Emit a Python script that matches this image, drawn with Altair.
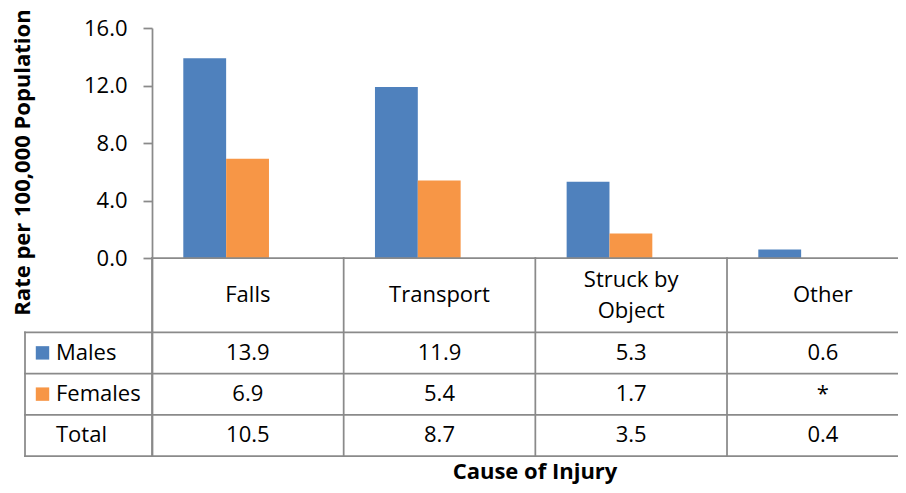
import altair as alt
import pandas as pd

# ---------------- data ----------------
categories = ["Falls", "Transport", "Struck by Object", "Other"]
header_labels = ["Falls", "Transport", "Struck by\nObject", "Other"]
series = ["Males", "Females"]
males = [13.9, 11.9, 5.3, 0.6]
females = [6.9, 5.4, 1.7, None]   # suppressed value shown as "*"
total = [10.5, 8.7, 3.5, 0.4]
row_names = ["Males", "Females", "Total"]
y_ticks = [0, 4, 8, 12, 16]
colors = ["#4F81BD", "#F79646"]
missing_mark = "*"

# ---------------- layout / style ----------------
FONT = "Open Sans"
FS = 22
GRAY = "#8A8A8A"
LW = 1.75
W, H = 746, 428          # view: plot area + data table
PLOT_H = 230             # bar plot part of the view
Y_MAX = 16
COL_PX = 191.67          # width of one category column
ROW_PX = 41.25           # height of one table row
HEADER_ROWS = 1.8        # header row height in row units
LINE_H = 31              # line height of wrapped header labels
LEFT_COL = 127 / COL_PX  # legend/label column width in column units
LABEL_INSET = 31 / COL_PX
SWATCH_INSET = 17.5 / COL_PX
X_MAX = W / COL_PX
TABLE_BOTTOM = HEADER_ROWS + len(row_names)

# bar band scale: bars fill 44.7% of a column, first group starts 31px in
N = len(categories)
P_INNER = 0.553
BAR_START = 31.3
P_OUTER = (W / COL_PX - N + P_INNER) / 2
ALIGN = BAR_START / (W - COL_PX * (N - P_INNER))

y_min = -(H - PLOT_H) / PLOT_H * Y_MAX
table_x_scale = alt.Scale(domain=[0, X_MAX], nice=False, zero=False)
table_y_scale = alt.Scale(domain=[-PLOT_H / ROW_PX, TABLE_BOTTOM], reverse=True, nice=False, zero=False)
color_scale = alt.Scale(domain=series, range=colors)

# ---------------- bars ----------------
bar_rows = []
for s, vals in zip(series, [males, females]):
    for c, v in zip(categories, vals):
        if v is not None:
            bar_rows.append({"category": c, "series": s, "value": v})
bars_df = pd.DataFrame(bar_rows)

bars = alt.Chart(bars_df).mark_bar().encode(
    x=alt.X("category:N", sort=categories, axis=None,
            scale=alt.Scale(domain=categories, paddingInner=P_INNER, paddingOuter=P_OUTER,
                            align=ALIGN, round=False)),
    xOffset=alt.XOffset("series:N", sort=series, scale=alt.Scale(domain=series)),
    y=alt.Y("value:Q",
            scale=alt.Scale(domain=[y_min, Y_MAX], nice=False),
            axis=alt.Axis(values=y_ticks, format=".1f", grid=False,
                          title="Rate per 100,000 Population",
                          titleFont=FONT, titleFontSize=FS, titleFontWeight="bold",
                          titleColor="black", titleAngle=-90, titleAlign="center",
                          titleBaseline="alphabetic", titleX=-123, titleY=134,
                          labelFont=FONT, labelFontSize=FS, labelColor="black",
                          labelPadding=16, tickSize=9, tickColor=GRAY, tickWidth=LW,
                          domainColor=GRAY, domainWidth=LW)),
    y2=alt.datum(0),
    color=alt.Color("series:N", scale=color_scale, legend=None),
)

# ---------------- data table ----------------
lines = [{"x": 0, "x2": X_MAX, "y": 0, "y2": 0}]
for i in range(len(row_names) + 1):
    r = HEADER_ROWS + i
    lines.append({"x": -LEFT_COL, "x2": X_MAX, "y": r, "y2": r})
for i in range(len(categories)):
    lines.append({"x": i, "x2": i, "y": 0, "y2": TABLE_BOTTOM})
lines.append({"x": -LEFT_COL, "x2": -LEFT_COL, "y": HEADER_ROWS, "y2": TABLE_BOTTOM})
lines_df = pd.DataFrame(lines)

rules = alt.Chart(lines_df).mark_rule(color=GRAY, strokeWidth=LW, strokeCap="square").encode(
    x=alt.X("x:Q", scale=table_x_scale, axis=None),
    x2="x2:Q",
    y=alt.Y("y:Q", scale=table_y_scale, axis=None),
    y2="y2:Q",
)

header_df = pd.DataFrame({
    "x": [i + 0.5 for i in range(len(categories))],
    "y": [HEADER_ROWS / 2 - (lbl.count("\n") * LINE_H / 2) / ROW_PX for lbl in header_labels],
    "text": header_labels,
})
header = alt.Chart(header_df).mark_text(
    font=FONT, fontSize=FS, color="black", align="center", baseline="middle",
    lineBreak="\n", lineHeight=LINE_H,
).encode(
    x=alt.X("x:Q", scale=table_x_scale, axis=None),
    y=alt.Y("y:Q", scale=table_y_scale, axis=None),
    text="text:N",
)

cells = []
for r, vals in enumerate([males, females, total]):
    for i, v in enumerate(vals):
        cells.append({
            "x": i + 0.5,
            "y": HEADER_ROWS + r + 0.5,
            "text": missing_mark if v is None else f"{v:.1f}",
        })
cells_df = pd.DataFrame(cells)
cell_text = alt.Chart(cells_df).mark_text(
    font=FONT, fontSize=FS, color="black", align="center", baseline="middle",
).encode(
    x=alt.X("x:Q", scale=table_x_scale, axis=None),
    y=alt.Y("y:Q", scale=table_y_scale, axis=None),
    text="text:N",
)

labels_df = pd.DataFrame({
    "x": [-LEFT_COL + LABEL_INSET] * len(row_names),
    "y": [HEADER_ROWS + r + 0.5 for r in range(len(row_names))],
    "text": row_names,
})
row_labels = alt.Chart(labels_df).mark_text(
    font=FONT, fontSize=FS, color="black", align="left", baseline="middle",
).encode(
    x=alt.X("x:Q", scale=table_x_scale, axis=None),
    y=alt.Y("y:Q", scale=table_y_scale, axis=None),
    text="text:N",
)

swatch_df = pd.DataFrame({
    "x": [-LEFT_COL + SWATCH_INSET] * len(series),
    "y": [HEADER_ROWS + r + 0.5 for r in range(len(series))],
    "series": series,
})
swatches = alt.Chart(swatch_df).mark_square(size=180, opacity=1, filled=True).encode(
    x=alt.X("x:Q", scale=table_x_scale, axis=None),
    y=alt.Y("y:Q", scale=table_y_scale, axis=None),
    color=alt.Color("series:N", scale=color_scale, legend=None),
)

table = alt.layer(rules, header, cell_text, row_labels, swatches)

chart = alt.layer(bars, table).resolve_scale(x="independent", y="independent").properties(
    width=W, height=H,
    autosize=alt.AutoSizeParams(type="none"),
    padding={"left": 144, "top": 20, "right": 0, "bottom": 29},
    title=alt.TitleParams("Cause of Injury", orient="bottom", anchor="middle", frame="group",
                          font=FONT, fontSize=FS, fontWeight="bold", color="black",
                          offset=5, dx=10),
).configure_view(stroke=None)

chart.save("out.html", embed_options={"renderer": "svg", "actions": False})
